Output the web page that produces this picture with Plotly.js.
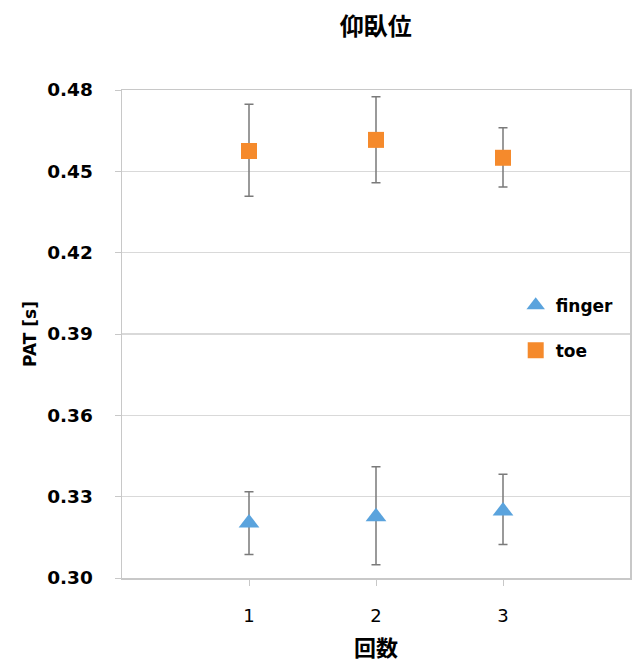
<!DOCTYPE html>
<html>
<head>
<meta charset="utf-8">
<script src="https://cdn.plot.ly/plotly-3.0.1.min.js"></script>
<style>html,body{margin:0;padding:0;background:#fff;}#chart{width:637px;height:662px;}</style>
</head>
<body>
<div id="chart"></div>
<script>
// Data
const trials = [1, 2, 3];
const fingerMean = [0.3203, 0.3226, 0.3247];
const fingerErrPlus = [0.0115, 0.0184, 0.0136];
const fingerErrMinus = [0.0116, 0.0177, 0.0123];
const toeMean = [0.4575, 0.4616, 0.4550];
const toeErrPlus = [0.0172, 0.0159, 0.0111];
const toeErrMinus = [0.0167, 0.0158, 0.0108];
const yTicks = [0.30, 0.33, 0.36, 0.39, 0.42, 0.45, 0.48];
const yTickText = ['0.30', '0.33', '0.36', '0.39', '0.42', '0.45', '0.48'];
const xTicks = [1, 2, 3];

const errStyle = {type: 'data', symmetric: false, color: '#7a7a7a', thickness: 1.5, width: 4.5};

const traces = [
  {
    x: trials, y: fingerMean, name: 'finger', mode: 'markers', type: 'scatter',
    legendgroup: 'f',
    marker: {symbol: 'triangle-up', size: 18, color: '#5aa3dd', line: {width: 0}},
    error_y: Object.assign({array: fingerErrPlus, arrayminus: fingerErrMinus}, errStyle)
  },
  {
    x: trials, y: toeMean, name: 'toe', mode: 'markers', type: 'scatter',
    legendgroup: 't',
    marker: {symbol: 'square', size: 16, color: '#f58a2c', line: {width: 0}},
    error_y: Object.assign({array: toeErrPlus, arrayminus: toeErrMinus}, errStyle)
  }
];

const layout = {
  width: 637, height: 662,
  margin: {l: 122, r: 7, t: 90, b: 84},
  paper_bgcolor: '#ffffff', plot_bgcolor: '#ffffff',
  font: {family: 'DejaVu Sans, sans-serif', color: '#000'},
  title: {
    text: '<b>仰臥位</b>',
    font: {family: 'Noto Sans CJK JP', size: 24, color: '#000'},
    x: 0.59, xanchor: 'center', y: 0.96, yanchor: 'middle'
  },
  xaxis: {
    range: [0, 4], tickvals: xTicks, ticktext: ['1', '2', '3'],
    showgrid: false, zeroline: false,
    showline: true, linecolor: '#c8c8c8', linewidth: 1.5, mirror: true,
    ticks: 'outside', ticklen: 6, tickcolor: '#c8c8c8',
    ticklabelstandoff: 15,
    tickfont: {family: 'DejaVu Sans', size: 18, color: '#000'},
    title: {text: '<b>回数</b>', font: {family: 'Noto Sans CJK JP', size: 22, color: '#000'}, standoff: 16}
  },
  yaxis: {
    range: [0.30, 0.48], tickvals: yTicks, ticktext: yTickText,
    showgrid: true, gridcolor: '#d9d9d9', gridwidth: 1.5, zeroline: false,
    showline: true, linecolor: '#c8c8c8', linewidth: 1.5, mirror: true,
    ticks: 'outside', ticklen: 6, tickcolor: '#c8c8c8',
    ticklabelstandoff: 18,
    tickfont: {family: 'DejaVu Sans', size: 18.5, color: '#000', weight: 'bold'},
    title: {text: '<b>PAT [s]</b>', font: {family: 'DejaVu Sans', size: 17, color: '#000'}, standoff: 6}
  },
  showlegend: true,
  legend: {
    x: 0.775, xanchor: 'left', y: 0.595, yanchor: 'top',
    bgcolor: 'rgba(0,0,0,0)', borderwidth: 0,
    traceorder: 'grouped', tracegroupgap: 20,
    font: {family: 'DejaVu Sans', size: 17, color: '#000', weight: 'bold'}
  }
};

Plotly.newPlot('chart', traces, layout, {displayModeBar: false, staticPlot: true});
</script>
</body>
</html>
